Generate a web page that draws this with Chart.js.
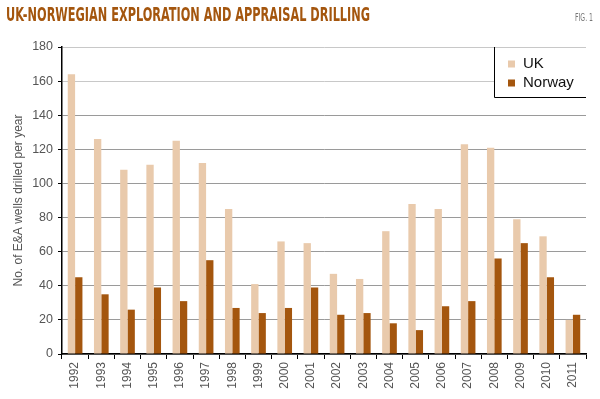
<!DOCTYPE html>
<html><head><meta charset="utf-8">
<script src="https://cdn.jsdelivr.net/npm/chart.js@4"></script>
<style>
html,body{margin:0;padding:0;background:#fff;}
#wrap{position:relative;width:600px;height:399px;overflow:hidden;}
#title{position:absolute;left:6px;top:3px;font-family:"DejaVu Sans Condensed","DejaVu Sans",sans-serif;font-weight:bold;font-size:19px;color:#A4560E;white-space:nowrap;transform-origin:0 0;z-index:2;}
#fig{position:absolute;left:575px;top:11px;font-family:"DejaVu Sans Condensed","DejaVu Sans",sans-serif;font-size:11px;color:#777;white-space:nowrap;transform-origin:0 0;z-index:2;}
canvas{position:absolute;left:0;top:0;}
</style></head>
<body><div id="wrap">
<div id="title">UK-NORWEGIAN EXPLORATION AND APPRAISAL DRILLING</div>
<div id="fig">FIG. 1</div>
<canvas id="c" width="600" height="399"></canvas>
</div>
<script>
const years = ["1992","1993","1994","1995","1996","1997","1998","1999","2000","2001","2002","2003","2004","2005","2006","2007","2008","2009","2010","2011"];
const ukWells = [164,126,108,111,125,112,85,41,66,65,47,44,72,88,85,123,121,79,69,20];
const norwayWells = [45,35,26,39,31,55,27,24,27,39,23,24,18,14,28,31,56,65,45,23];
const yTicks = [0,20,40,60,80,100,120,140,160,180];
const yTitle = "No. of E&A wells drilled per year";

(function(){
  const t = document.getElementById('title');
  t.style.transform = 'scaleX(' + (364 / t.getBoundingClientRect().width) + ')';
  const f = document.getElementById('fig');
  f.style.transform = 'scaleX(' + (18 / f.getBoundingClientRect().width) + ')';
})();

const legendBox = {
  id:'legendBox',
  afterDatasetsDraw(chart){
    const ctx = chart.ctx;
    const a = chart.chartArea;
    const L = 494.5, B = 97.5, R = a.right, T = a.top;
    ctx.save();
    ctx.fillStyle = '#fff';
    ctx.fillRect(L, T + 1, R - L, B - T - 1);
    ctx.strokeStyle = '#000';
    ctx.lineWidth = 1;
    ctx.beginPath();
    ctx.moveTo(L, T); ctx.lineTo(L, B); ctx.lineTo(R, B);
    ctx.stroke();
    ctx.font = '15px "Liberation Sans", Arial, sans-serif';
    ctx.textBaseline = 'middle';
    chart.data.datasets.forEach((ds, i) => {
      const y = 64 + i * 19;
      ctx.fillStyle = ds.backgroundColor;
      ctx.fillRect(508, y - 3.5, 7, 7);
      ctx.fillStyle = '#111';
      ctx.fillText(ds.label, 523, y);
    });
    ctx.restore();
  }
};

new Chart(document.getElementById('c'), {
  type: 'bar',
  data: {
    labels: years,
    datasets: [
      {label:'UK', data: ukWells, backgroundColor:'#E9CAAC', barPercentage:1.0, categoryPercentage:0.56},
      {label:'Norway', data: norwayWells, backgroundColor:'#A4560E', barPercentage:1.0, categoryPercentage:0.56}
    ]
  },
  options: {
    responsive:false, animation:false,
    devicePixelRatio:1,
    layout:{padding:{top:47, right:14, left:0, bottom:0}},
    plugins:{legend:{display:false}, tooltip:{enabled:false}},
    scales:{
      x:{
        afterFit(s){ s.height = 45; },
        grid:{offset:true, drawOnChartArea:false, tickLength:5, color:'#000'},
        border:{color:'#000', width:1.5},
        ticks:{minRotation:90, maxRotation:90, color:'#555', padding:3,
               font:{family:'"Liberation Sans", Arial, sans-serif', size:12}}
      },
      y:{
        min:0, max:180,
        afterFit(s){ s.width = 62; },
        afterBuildTicks(s){ s.ticks = yTicks.map(v => ({value:v})); },
        grid:{color: c => (c.tick && c.tick.value >= 160) ? '#c8c8c8' : '#9a9a9a', lineWidth:1, tickLength:4, tickColor:'#000'},
        border:{color:'#000', width:1.5},
        ticks:{color:'#555', padding:5, font:{family:'"Liberation Sans", Arial, sans-serif', size:12.5}},
        title:{display:true, text:yTitle, color:'#555', padding:{top:11,bottom:0},
               font:{family:'"Liberation Sans", Arial, sans-serif', size:12}}
      }
    }
  },
  plugins:[legendBox]
});
</script>
</body></html>
